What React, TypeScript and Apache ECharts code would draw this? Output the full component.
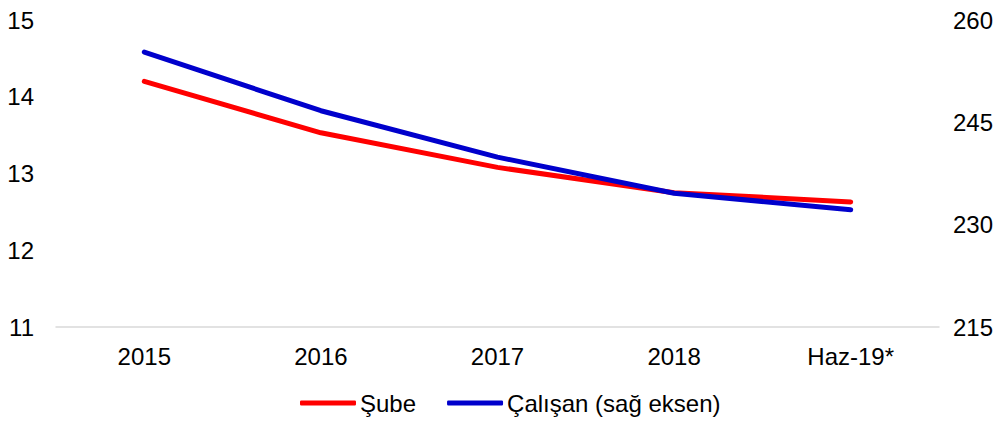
import React, { useEffect, useRef } from "react";
import * as echarts from "echarts";

const categories = ["2015", "2016", "2017", "2018", "Haz-19*"];
const subeValues = [14.2, 13.53, 13.08, 12.75, 12.63];
const calisanValues = [255.3, 246.7, 239.9, 234.6, 232.2];
const seriesNames = ["Şube", "Çalışan (sağ eksen)"];

export default function App() {
  const ref = useRef<HTMLDivElement>(null);
  useEffect(() => {
    if (!ref.current) return;
    const chart = echarts.init(ref.current, undefined, { renderer: "svg" });
    const font = "Liberation Sans, Arial, sans-serif";
    chart.setOption({
      animation: false,
      textStyle: { fontFamily: font },
      grid: { left: 56, right: 59, top: 20, bottom: 98, containLabel: false },
      legend: {
        bottom: 5,
        left: 295,
        icon: "roundRect",
        itemWidth: 56,
        itemHeight: 5,
        itemGap: 31,
        textStyle: { fontSize: 24, color: "#000", fontFamily: font, padding: [0, 0, 0, -1] },
        data: seriesNames,
      },
      xAxis: {
        type: "category",
        data: categories,
        boundaryGap: true,
        axisLine: { lineStyle: { color: "#D9D9D9", width: 1.5 } },
        axisTick: { show: false },
        axisLabel: { fontSize: 24, color: "#000", margin: 17, fontFamily: font },
      },
      yAxis: [
        {
          type: "value",
          min: 11,
          max: 15,
          interval: 1,
          splitLine: { show: false },
          axisLine: { show: false },
          axisTick: { show: false },
          axisLabel: { fontSize: 24, color: "#000", margin: 22, fontFamily: font },
        },
        {
          type: "value",
          min: 215,
          max: 260,
          interval: 15,
          splitLine: { show: false },
          axisLine: { show: false },
          axisTick: { show: false },
          axisLabel: { fontSize: 24, color: "#000", margin: 14, fontFamily: font },
        },
      ],
      series: [
        {
          name: seriesNames[0],
          type: "line",
          data: subeValues,
          yAxisIndex: 0,
          showSymbol: false,
          symbol: "none",
          lineStyle: { color: "#FF0000", width: 5, cap: "round", join: "round" },
          itemStyle: { color: "#FF0000" },
        },
        {
          name: seriesNames[1],
          type: "line",
          data: calisanValues,
          yAxisIndex: 1,
          showSymbol: false,
          symbol: "none",
          lineStyle: { color: "#0000CC", width: 5, cap: "round", join: "round" },
          itemStyle: { color: "#0000CC" },
        },
      ],
    });
    return () => chart.dispose();
  }, []);
  return <div ref={ref} style={{ width: 998, height: 425, position: "absolute", left: 0, top: 0 }} />;
}
